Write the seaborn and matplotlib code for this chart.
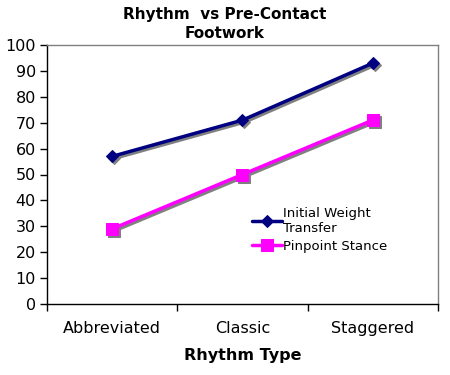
import matplotlib
matplotlib.use("Agg")
import matplotlib.pyplot as plt
from matplotlib.transforms import offset_copy
import seaborn as sns
import pandas as pd

categories = ["Abbreviated", "Classic", "Staggered"]
initial_weight_transfer = [57, 71, 93]
pinpoint_stance = [29, 50, 71]
y_ticks = [0, 10, 20, 30, 40, 50, 60, 70, 80, 90, 100]

sns.set_theme(style="white", rc={"xtick.bottom": True, "ytick.left": True,
                                 "text.color": "black", "axes.labelcolor": "black",
                                 "xtick.color": "black", "ytick.color": "black"})
plt.rcParams['font.family'] = ['DejaVu Sans']

df = pd.DataFrame({
    "Rhythm Type": categories * 2,
    "Value": initial_weight_transfer + pinpoint_stance,
    "Series": ["Initial Weight\nTransfer"] * 3 + ["Pinpoint Stance"] * 3,
})

fig = plt.figure(figsize=(4.5, 3.75), dpi=100)
ax = fig.add_axes([47/450, 1 - 304/375, (438-47)/450, (304-45)/375])

colors = {"Initial Weight\nTransfer": "#000080", "Pinpoint Stance": "#FF00FF"}
markers = {"Initial Weight\nTransfer": "D", "Pinpoint Stance": "s"}
sizes = {"Initial Weight\nTransfer": 6.5, "Pinpoint Stance": 8}
shadow_tr = offset_copy(ax.transData, fig=fig, x=2, y=-2, units="dots")

for name in ["Initial Weight\nTransfer", "Pinpoint Stance"]:
    sub = df[df["Series"] == name]
    sns.lineplot(data=sub, x="Rhythm Type", y="Value", ax=ax, color="#808080",
                 marker=markers[name], markersize=sizes[name], markeredgecolor="#808080",
                 linewidth=2.5, sort=False, transform=shadow_tr, legend=False)
for name in ["Initial Weight\nTransfer", "Pinpoint Stance"]:
    sub = df[df["Series"] == name]
    sns.lineplot(data=sub, x="Rhythm Type", y="Value", ax=ax, color=colors[name],
                 marker=markers[name], markersize=sizes[name], markeredgecolor=colors[name],
                 linewidth=2.5, label=name, sort=False)

ax.set_xlim(-0.5, 2.5)
ax.set_ylim(0, 100)
ax.set_yticks(y_ticks)
ax.set_yticklabels([str(v) for v in y_ticks], fontsize=11.5)
ax.set_xticks([0, 1, 2])
ax.set_xticklabels(categories, fontsize=11.5)
ax.set_xticks([-0.5, 0.5, 1.5, 2.5], minor=True)
ax.tick_params(axis="x", which="major", length=0, pad=12)
ax.tick_params(axis="x", which="minor", bottom=True, length=5, width=1, color="black", direction="out")
ax.tick_params(axis="y", which="major", length=5, width=1, color="black", direction="out", left=True, pad=3)

for s in ["left", "bottom"]:
    ax.spines[s].set_color("black")
    ax.spines[s].set_linewidth(1)
for s in ["top", "right"]:
    ax.spines[s].set_color("#808080")
    ax.spines[s].set_linewidth(1)

ax.set_xlabel("Rhythm Type", fontsize=11.5, fontweight="bold", labelpad=9)
ax.set_ylabel("")
fig.text(0.5, 1 - 24/375, "Rhythm  vs Pre-Contact\nFootwork", ha="center", va="center",
         fontsize=11, fontweight="bold", linespacing=1.25)

leg = ax.legend(loc="upper left", bbox_to_anchor=(0.51, 0.395), frameon=False, fontsize=9.5,
                handlelength=2.3, handletextpad=0.1, labelspacing=0.35, borderaxespad=0)

fig.savefig("out.png", dpi=100)
